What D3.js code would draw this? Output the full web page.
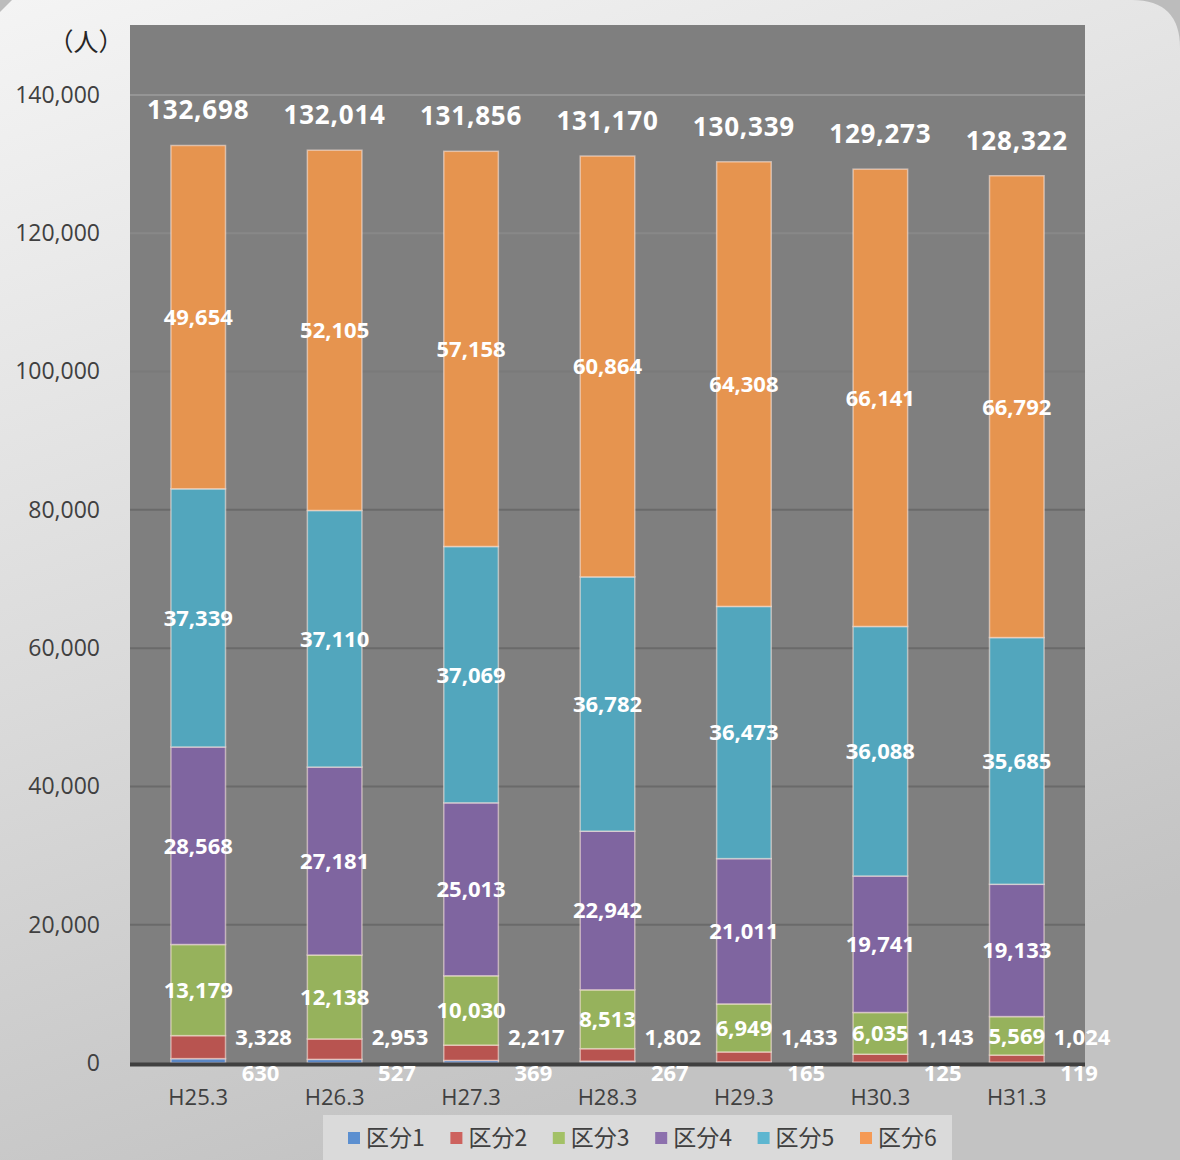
<!DOCTYPE html>
<html lang="ja">
<head>
<meta charset="utf-8">
<script src="https://cdn.jsdelivr.net/npm/d3@7"></script>
<style>
  html, body { margin: 0; padding: 0; background: #c6c6c6; }
  svg { display: block; }
</style>
</head>
<body>
<svg id="chart" width="1180" height="1160"></svg>
<script>
// Fiscal years (end of March)
const categories = ["H25.3", "H26.3", "H27.3", "H28.3", "H29.3", "H30.3", "H31.3"];
const seriesNames = ["区分1", "区分2", "区分3", "区分4", "区分5", "区分6"];
// Number of people per category
const kubun1 = [630, 527, 369, 267, 165, 125, 119];
const kubun2 = [3328, 2953, 2217, 1802, 1433, 1143, 1024];
const kubun3 = [13179, 12138, 10030, 8513, 6949, 6035, 5569];
const kubun4 = [28568, 27181, 25013, 22942, 21011, 19741, 19133];
const kubun5 = [37339, 37110, 37069, 36782, 36473, 36088, 35685];
const kubun6 = [49654, 52105, 57158, 60864, 64308, 66141, 66792];
const totals = [132698, 132014, 131856, 131170, 130339, 129273, 128322];
const yTicks = [0, 20000, 40000, 60000, 80000, 100000, 120000, 140000];
const unitLabel = "（人）";

const barColors = ["#5b87c5", "#b85450", "#96b25c", "#7f65a0", "#52a6bd", "#e6944f"];
const legendColors = ["#5b8fd0", "#cd625e", "#a3c166", "#8c70ad", "#5db6d0", "#f59a55"];

const seriesValues = [kubun1, kubun2, kubun3, kubun4, kubun5, kubun6];
const rows = categories.map((c, i) => {
  const r = { cat: c };
  seriesNames.forEach((s, k) => { r[s] = seriesValues[k][i]; });
  return r;
});
const stacked = d3.stack().keys(seriesNames)(rows);

const svg = d3.select("#chart");
const W = 1180, H = 1160;
const plot = { left: 130, right: 1085, top: 25, bottom: 1063 };

const defs = svg.append("defs");
const bg = defs.append("linearGradient").attr("id", "bgGrad")
  .attr("x1", 0).attr("y1", 0).attr("x2", 0.35).attr("y2", 1);
bg.append("stop").attr("offset", "0%").attr("stop-color", "#f4f4f4");
bg.append("stop").attr("offset", "55%").attr("stop-color", "#dadada");
bg.append("stop").attr("offset", "100%").attr("stop-color", "#c3c3c3");

// Card background with a bevelled top-left and rounded top-right corner
const bevel = 12, rad = 48;
svg.append("rect").attr("width", W).attr("height", H).attr("fill", "#bcbcbc");
svg.append("path")
  .attr("d", `M${bevel},0 L${W - rad},0 Q${W},0 ${W},${rad} L${W},${H} L0,${H} L0,${bevel} Z`)
  .attr("fill", "url(#bgGrad)");

// Plot area
svg.append("rect")
  .attr("x", plot.left).attr("y", plot.top)
  .attr("width", plot.right - plot.left).attr("height", plot.bottom - plot.top)
  .attr("fill", "#7f7f7f");

const x = d3.scaleBand().domain(categories).range([plot.left, plot.right])
  .paddingInner(0.6).paddingOuter(0.3);
const y = d3.scaleLinear().domain([0, 140000]).range([plot.bottom, 95]);

// Gridlines: lighter near the top, darker lower down
const gridColor = d3.scaleLinear().domain([140000, 100000, 80000]).range(["#959595", "#7a7a7a", "#6a6a6a"]).clamp(true);
svg.append("g").selectAll("line")
  .data(yTicks.filter(t => t > 0))
  .join("line")
  .attr("x1", plot.left).attr("x2", plot.right)
  .attr("y1", d => y(d)).attr("y2", d => y(d))
  .attr("stroke", d => gridColor(d)).attr("stroke-width", 2);

// Y axis labels
const yAxis = d3.axisLeft(y).tickValues(yTicks).tickSize(0).tickPadding(0)
  .tickFormat(d3.format(","));
const gy = svg.append("g").attr("transform", "translate(100,0)").call(yAxis);
gy.select(".domain").remove();
gy.selectAll("text")
  .attr("font-family", "'Open Sans', 'Noto Sans', sans-serif")
  .attr("font-size", 23).attr("fill", "#404040");

svg.append("text").attr("x", 86).attr("y", 51).attr("text-anchor", "middle")
  .attr("font-family", "'Noto Sans CJK JP', sans-serif").attr("font-size", 25)
  .attr("fill", "#262626").text(unitLabel);

// Stacked bars
const layers = svg.append("g").selectAll("g")
  .data(stacked).join("g")
  .attr("fill", (d, i) => barColors[i]);
layers.selectAll("rect")
  .data(d => d).join("rect")
  .attr("x", d => x(d.data.cat))
  .attr("width", x.bandwidth())
  .attr("y", d => y(d[1]))
  .attr("height", d => y(d[0]) - y(d[1]))
  .attr("stroke", "rgba(255,235,225,0.55)")
  .attr("stroke-width", 1.5);

// X axis line and labels
svg.append("line")
  .attr("x1", plot.left).attr("x2", plot.right)
  .attr("y1", plot.bottom + 1.5).attr("y2", plot.bottom + 1.5)
  .attr("stroke", "#404040").attr("stroke-width", 4);
const xAxis = d3.axisBottom(x).tickSize(0).tickPadding(0);
const gx = svg.append("g").attr("transform", `translate(0,${plot.bottom + 42})`).call(xAxis);
gx.select(".domain").remove();
gx.selectAll("text")
  .attr("dy", 0)
  .attr("font-family", "'Open Sans', 'Noto Sans', sans-serif")
  .attr("font-size", 22).attr("fill", "#404040");

const numFmt = d3.format(",");
const labelFont = "'Open Sans', 'Noto Sans', sans-serif";

// Value labels inside segments (区分3〜6)
stacked.slice(2).forEach(layer => {
  svg.append("g").selectAll("text")
    .data(layer).join("text")
    .attr("x", d => x(d.data.cat) + x.bandwidth() / 2)
    .attr("y", d => (y(d[0]) + y(d[1])) / 2)
    .attr("dy", "0.36em")
    .attr("text-anchor", "middle")
    .attr("font-family", labelFont).attr("font-weight", 700)
    .attr("font-size", 22).attr("fill", "#ffffff")
    .text(d => numFmt(d[1] - d[0]));
});

// Small segments labelled beside the bar
svg.append("g").selectAll("text")
  .data(stacked[1]).join("text")
  .attr("x", d => x(d.data.cat) + x.bandwidth() + 38)
  .attr("y", y(0) - 26).attr("dy", "0.36em")
  .attr("text-anchor", "middle")
  .attr("font-family", labelFont).attr("font-weight", 700)
  .attr("font-size", 22).attr("fill", "#ffffff")
  .text(d => numFmt(d[1] - d[0]));
svg.append("g").selectAll("text")
  .data(stacked[0]).join("text")
  .attr("x", d => x(d.data.cat) + x.bandwidth() + 35)
  .attr("y", y(0) + 10).attr("dy", "0.36em")
  .attr("text-anchor", "middle")
  .attr("font-family", labelFont).attr("font-weight", 700)
  .attr("font-size", 22).attr("fill", "#ffffff")
  .text(d => numFmt(d[1] - d[0]));

// Totals above bars
svg.append("g").selectAll("text")
  .data(totals).join("text")
  .attr("x", (d, i) => x(categories[i]) + x.bandwidth() / 2)
  .attr("y", d => y(d) - 26)
  .attr("text-anchor", "middle")
  .attr("font-family", labelFont).attr("font-weight", 700)
  .attr("font-size", 26).attr("letter-spacing", 0.8).attr("fill", "#ffffff")
  .text(d => numFmt(d));

// Legend
const lg = svg.append("g");
lg.append("rect").attr("x", 323).attr("y", 1115).attr("width", 629).attr("height", 50)
  .attr("fill", "#dadada");
const legendX = d3.scalePoint().domain(seriesNames).range([348, 860]);
const items = lg.selectAll("g").data(seriesNames).join("g")
  .attr("transform", d => `translate(${legendX(d)},1138)`);
items.append("rect").attr("x", 0).attr("y", -6).attr("width", 12).attr("height", 12)
  .attr("fill", (d, i) => legendColors[i]);
items.append("text").attr("x", 18).attr("dy", "0.36em")
  .attr("font-family", "'Noto Sans CJK JP', sans-serif").attr("font-size", 23)
  .attr("fill", "#404040").text(d => d);
</script>
</body>
</html>
